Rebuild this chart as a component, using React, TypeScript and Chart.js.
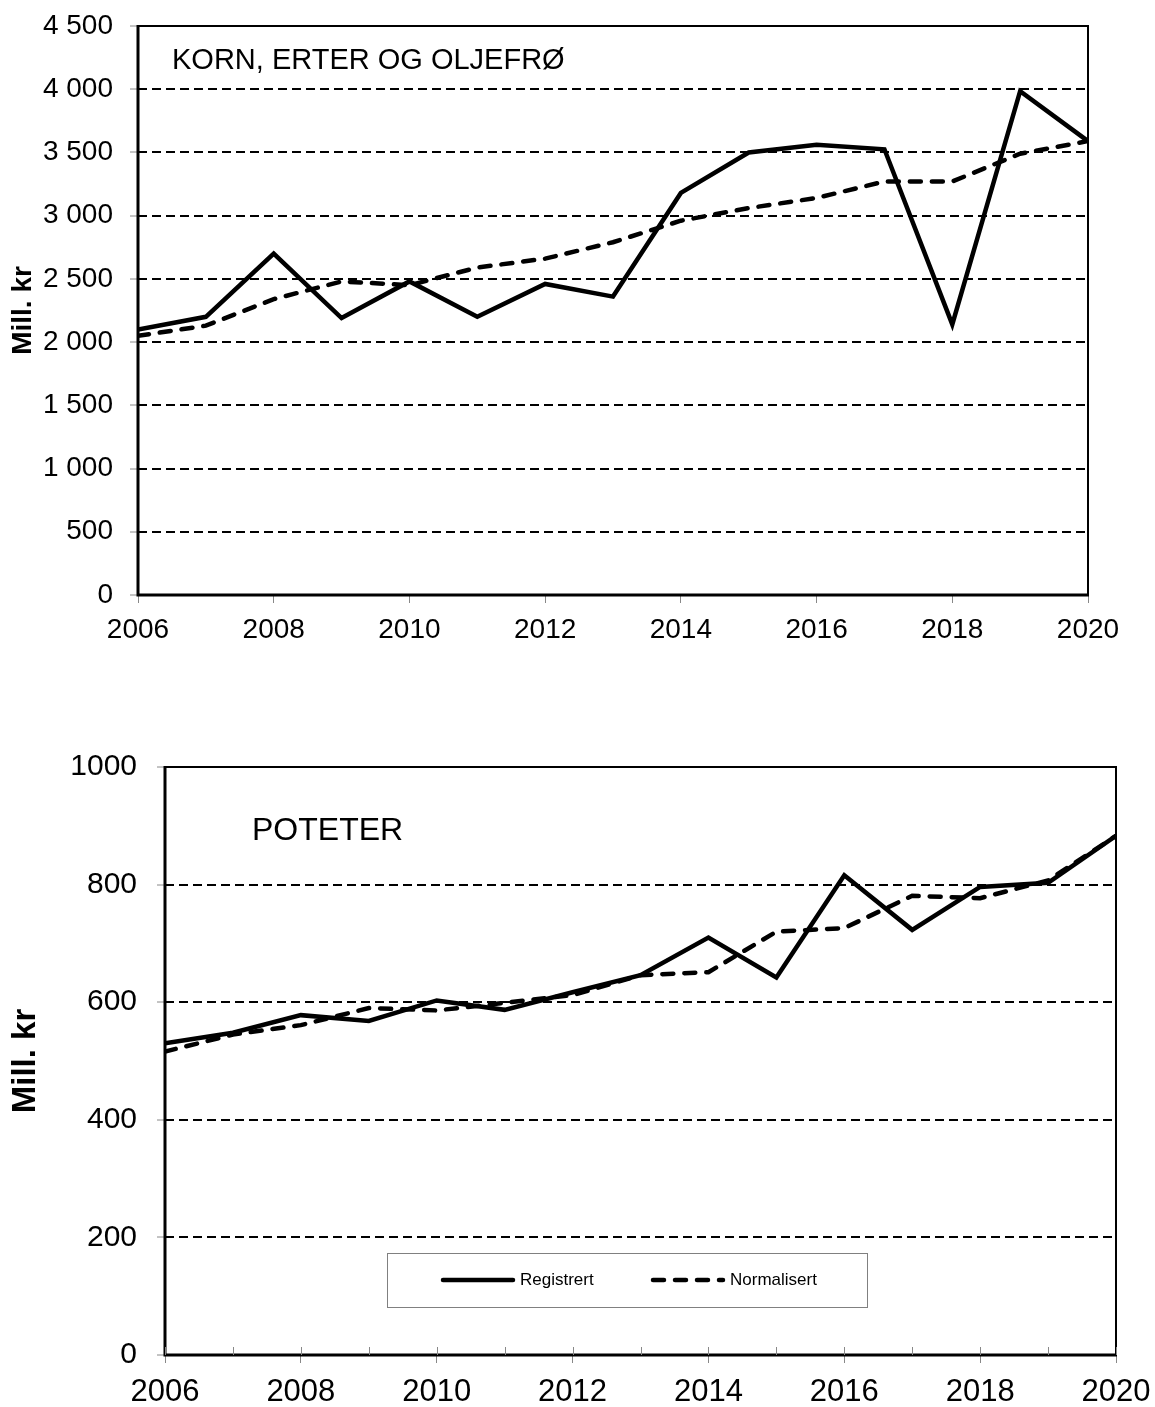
import React, { useEffect, useRef } from 'react';
import { Chart, registerables } from 'chart.js';

Chart.register(...registerables);

const FONT = '"Liberation Sans", Arial, Helvetica, sans-serif';

// ---------- DATA ----------
const years = [2006, 2007, 2008, 2009, 2010, 2011, 2012, 2013, 2014, 2015, 2016, 2017, 2018, 2019, 2020];

const kornTitle = 'KORN, ERTER OG OLJEFRØ';
const kornRegistrert = [2100, 2200, 2700, 2190, 2480, 2200, 2460, 2360, 3180, 3500, 3560, 3525, 2140, 3985, 3590];
const kornNormalisert = [2050, 2130, 2340, 2480, 2450, 2590, 2660, 2790, 2960, 3060, 3140, 3270, 3270, 3490, 3590];

const poteterTitle = 'POTETER';
const poteterRegistrert = [530, 548, 578, 568, 603, 587, 617, 646, 710, 642, 816, 723, 796, 803, 883];
const poteterNormalisert = [516, 545, 561, 590, 586, 599, 612, 646, 651, 720, 726, 781, 777, 807, 883];

const seriesLabels = ['Registrert', 'Normalisert'];
const yAxisTitle = 'Mill. kr';

// ---------- HELPERS ----------
function spaceThousands(v: number): string {
  const n = Math.round(v);
  if (n < 1000) return String(n);
  return `${Math.floor(n / 1000)} ${String(n % 1000).padStart(3, '0')}`;
}
function plain(v: number): string {
  return String(Math.round(v));
}

function toPoints(vals: number[]) {
  return years.map((yr, i) => ({ x: yr, y: vals[i] }));
}

function makeDatasets(reg: number[], norm: number[]) {
  return [
    {
      label: seriesLabels[0],
      data: toPoints(reg),
      borderColor: '#000',
      backgroundColor: '#000',
      borderWidth: 4.5,
      pointRadius: 0,
      tension: 0,
      borderJoinStyle: 'miter',
      fill: false,
    },
    {
      label: seriesLabels[1],
      data: toPoints(norm),
      borderColor: '#000',
      backgroundColor: '#000',
      borderWidth: 4.5,
      borderDash: [11, 11],
      borderCapStyle: 'round',
      pointRadius: 0,
      tension: 0,
      fill: false,
    },
  ];
}

const framePlugin = {
  id: 'frame',
  afterDatasetsDraw(chart: any) {
    const { ctx, chartArea: a } = chart;
    ctx.save();
    ctx.setLineDash([]);
    ctx.strokeStyle = '#000';
    ctx.lineWidth = 2;
    ctx.beginPath();
    ctx.moveTo(a.left, a.top);
    ctx.lineTo(a.right, a.top);
    ctx.lineTo(a.right, a.bottom);
    ctx.stroke();
    ctx.lineWidth = 3;
    ctx.beginPath();
    ctx.moveTo(a.left, a.top - 1);
    ctx.lineTo(a.left, a.bottom);
    ctx.lineTo(a.right + 1, a.bottom);
    ctx.stroke();
    ctx.restore();
  },
};

const innerTitlePlugin = {
  id: 'innerTitle',
  afterDatasetsDraw(chart: any, _args: any, opts: any) {
    if (!opts || !opts.text) return;
    const { ctx, chartArea: a } = chart;
    ctx.save();
    ctx.fillStyle = '#000';
    ctx.font = `${opts.size}px ${FONT}`;
    ctx.textAlign = 'left';
    ctx.textBaseline = 'middle';
    ctx.fillText(opts.text, a.left + opts.dx, a.top + opts.dy);
    ctx.restore();
  },
};

const innerTicksPlugin = {
  id: 'innerTicks',
  afterDatasetsDraw(chart: any, _args: any, opts: any) {
    if (!opts || !opts.enabled) return;
    const { ctx, chartArea: a } = chart;
    const xs = chart.scales.x;
    ctx.save();
    ctx.setLineDash([]);
    ctx.strokeStyle = '#888';
    ctx.lineWidth = 1;
    xs.ticks.forEach((t: any) => {
      const px = Math.round(xs.getPixelForValue(t.value)) + 0.5;
      ctx.beginPath();
      ctx.moveTo(px, a.bottom);
      ctx.lineTo(px, a.bottom - opts.length);
      ctx.stroke();
    });
    ctx.restore();
  },
};

const boxLegendPlugin = {
  id: 'boxLegend',
  afterDatasetsDraw(chart: any, _args: any, opts: any) {
    if (!opts || !opts.enabled) return;
    const { ctx, chartArea: a } = chart;
    const x0 = a.left + opts.dx;
    const y0 = a.bottom - opts.dyBottom - opts.h;
    ctx.save();
    ctx.fillStyle = '#fff';
    ctx.fillRect(x0, y0, opts.w, opts.h);
    ctx.setLineDash([]);
    ctx.strokeStyle = '#808080';
    ctx.lineWidth = 1;
    ctx.strokeRect(x0 + 0.5, y0 + 0.5, opts.w, opts.h);
    const cy = y0 + opts.h / 2;
    ctx.font = `${opts.size}px ${FONT}`;
    ctx.textBaseline = 'middle';
    ctx.textAlign = 'left';
    chart.data.datasets.forEach((ds: any, i: number) => {
      const sx = x0 + opts.itemX[i];
      ctx.strokeStyle = ds.borderColor;
      ctx.lineWidth = ds.borderWidth;
      ctx.lineCap = ds.borderCapStyle || 'round';
      ctx.setLineDash(ds.borderDash || []);
      ctx.beginPath();
      ctx.moveTo(sx, cy);
      ctx.lineTo(sx + opts.sample, cy);
      ctx.stroke();
      ctx.fillStyle = '#000';
      ctx.fillText(ds.label, sx + opts.sample + 7, cy);
    });
    ctx.restore();
  },
};

function fixBox(s: any, w: number | null, h: number | null) {
  if (w !== null) s.width = w;
  if (h !== null) s.height = h;
  s.paddingTop = 0;
  s.paddingBottom = 0;
  s.paddingLeft = 0;
  s.paddingRight = 0;
}

function makeConfig(p: {
  reg: number[];
  norm: number[];
  yMax: number;
  yStep: number;
  xStep: number;
  yFormat: (v: number) => string;
  evenOnlyOuterTicks: boolean;
  padding: any;
  yWidth: number;
  xHeight: number;
  xFont: number;
  yFont: number;
  titleFont: number;
  xPad: number;
  yPad: number;
  title: any;
  innerTicks: boolean;
  legend: any;
}) {
  return {
    type: 'line',
    data: { datasets: makeDatasets(p.reg, p.norm) },
    plugins: [framePlugin, innerTitlePlugin, innerTicksPlugin, boxLegendPlugin],
    options: {
      responsive: false,
      animation: false,
      devicePixelRatio: 1,
      layout: { padding: p.padding },
      plugins: {
        legend: { display: false },
        tooltip: { enabled: false },
        innerTitle: p.title,
        innerTicks: { enabled: p.innerTicks, length: 8 },
        boxLegend: p.legend,
      },
      scales: {
        x: {
          type: 'linear',
          min: years[0],
          max: years[years.length - 1],
          ticks: {
            stepSize: p.xStep,
            autoSkip: false,
            maxRotation: 0,
            minRotation: 0,
            padding: p.xPad,
            color: '#000',
            font: { family: FONT, size: p.xFont },
            callback: (v: any) => (Number(v) % 2 === 0 ? String(v) : ''),
          },
          grid: {
            drawOnChartArea: false,
            tickLength: 8,
            tickWidth: 1,
            tickColor: (c: any) =>
              p.evenOnlyOuterTicks && c.tick && Number(c.tick.value) % 2 !== 0 ? 'rgba(0,0,0,0)' : '#888',
          },
          border: { display: false },
          afterFit: (s: any) => fixBox(s, null, p.xHeight),
        },
        y: {
          min: 0,
          max: p.yMax,
          ticks: {
            stepSize: p.yStep,
            padding: p.yPad,
            color: '#000',
            font: { family: FONT, size: p.yFont },
            callback: (v: any) => p.yFormat(Number(v)),
          },
          grid: {
            lineWidth: 2,
            color: (c: any) =>
              c.tick && (c.tick.value === 0 || c.tick.value === p.yMax) ? 'rgba(0,0,0,0)' : '#000',
            tickLength: 8,
            tickWidth: 1,
            tickColor: '#888',
          },
          border: { display: false, dash: [9, 5] },
          title: {
            display: true,
            text: yAxisTitle,
            color: '#000',
            font: { family: FONT, size: p.titleFont, weight: 'bold' },
            padding: { top: 6, bottom: 0 },
          },
          afterFit: (s: any) => fixBox(s, p.yWidth, null),
        },
      },
    },
  };
}

function ChartCanvas({ config, width, height, top }: { config: any; width: number; height: number; top: number }) {
  const ref = useRef<HTMLCanvasElement | null>(null);
  useEffect(() => {
    if (!ref.current) return;
    const chart = new Chart(ref.current, config);
    return () => chart.destroy();
  }, [config]);
  return (
    <canvas
      ref={ref}
      width={width}
      height={height}
      style={{ position: 'absolute', left: 0, top, width, height, display: 'block' }}
    />
  );
}

const topConfig = makeConfig({
  reg: kornRegistrert,
  norm: kornNormalisert,
  yMax: 4500,
  yStep: 500,
  xStep: 2,
  yFormat: spaceThousands,
  evenOnlyOuterTicks: false,
  padding: { top: 26, right: 67, left: 0, bottom: 0 },
  yWidth: 138,
  xHeight: 65,
  xFont: 28,
  yFont: 28,
  titleFont: 28,
  xPad: 10,
  yPad: 17,
  title: { text: kornTitle, dx: 34, dy: 35, size: 29 },
  innerTicks: false,
  legend: { enabled: false },
});

const bottomConfig = makeConfig({
  reg: poteterRegistrert,
  norm: poteterNormalisert,
  yMax: 1000,
  yStep: 200,
  xStep: 1,
  yFormat: plain,
  evenOnlyOuterTicks: true,
  padding: { top: 77, right: 39, left: 0, bottom: 0 },
  yWidth: 165,
  xHeight: 52,
  xFont: 31,
  yFont: 30,
  titleFont: 33,
  xPad: 11,
  yPad: 20,
  title: { text: poteterTitle, dx: 87, dy: 64, size: 32 },
  innerTicks: true,
  legend: { enabled: true, dx: 222, dyBottom: 48, w: 480, h: 54, size: 17, sample: 70, itemX: [56, 266] },
});

export default function App() {
  return (
    <div style={{ position: 'absolute', left: 0, top: 0, width: 1155, height: 1407, background: '#fff', overflow: 'hidden' }}>
      <ChartCanvas config={topConfig} width={1155} height={660} top={0} />
      <ChartCanvas config={bottomConfig} width={1155} height={717} top={690} />
    </div>
  );
}
